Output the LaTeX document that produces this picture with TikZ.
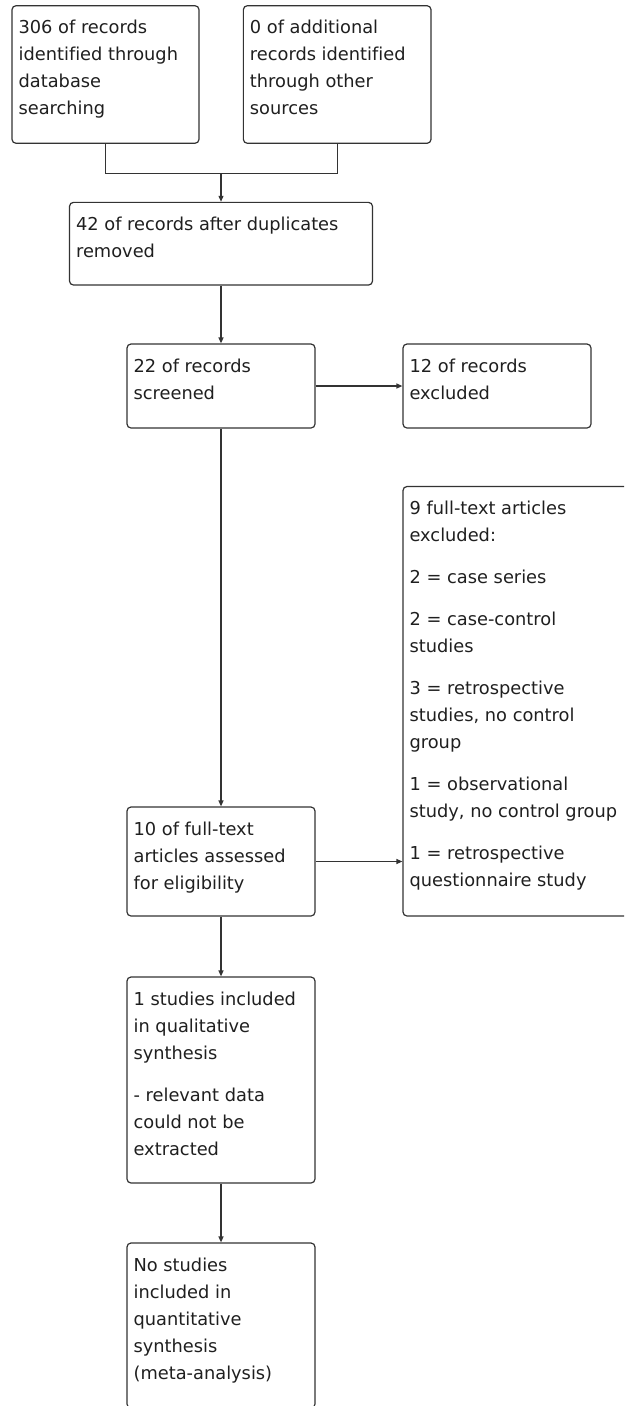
\documentclass[tikz,border=0pt]{standalone}
\usepackage{fontspec}
\setmainfont[Ligatures=NoCommon]{DejaVu Sans}
\usetikzlibrary{arrows.meta}
\begin{document}
\begin{tikzpicture}[x=1pt,y=-1pt,
  box/.style={draw=black!80, line width=1.2pt, rounded corners=4pt, inner sep=0pt},
  txt/.style={anchor=north west, inner sep=0pt, align=left, text=black!88,
    font=\fontsize{17.8}{27}\selectfont},
  ln/.style={draw=black!80, line width=1.2pt},
  arr/.style={ln, -{Triangle[length=6pt,width=5pt]}}]
\path[use as bounding box, clip] (0,0) rectangle (624,1406);
% boxes
\node[box, minimum width=187pt, minimum height=137.6pt] (a) at (105.5,74.5) {};
\node[box, minimum width=187.7pt, minimum height=137.6pt] (b) at (337.2,74.5) {};
\node[box, minimum width=303pt, minimum height=82.7pt] (c) at (221,243.7) {};
\node[box, minimum width=188pt, minimum height=84pt] (d) at (221,386) {};
\node[box, minimum width=188pt, minimum height=84pt] (e) at (497,386) {};
\node[box, minimum width=227pt, minimum height=429.5pt] (f) at (516.5,701.25) {};
\node[box, minimum width=188pt, minimum height=109pt] (g) at (221,861.5) {};
\node[box, minimum width=188pt, minimum height=206pt] (h) at (221,1080) {};
\node[box, minimum width=188pt, minimum height=165pt] (i) at (221,1325.5) {};
% texts
\node[txt] (ta) at ([shift={(7,12.5)}]a.north west) {\rule{0pt}{16pt}306 of records\\identified through\\database\\searching};
\node[txt] (tb) at ([shift={(7,12.5)}]b.north west) {\rule{0pt}{16pt}0 of additional\\records identified\\through other\\sources};
\node[txt] (tc) at ([shift={(7,12.5)}]c.north west) {\rule{0pt}{16pt}42 of records after duplicates\\removed};
\node[txt] (td) at ([shift={(7,12.5)}]d.north west) {\rule{0pt}{16pt}22 of records\\screened};
\node[txt] (te) at ([shift={(7,12.5)}]e.north west) {\rule{0pt}{16pt}12 of records\\excluded};
\node[txt] (tf) at ([shift={(7,12.5)}]f.north west) {\rule{0pt}{16pt}9 full-text articles\\excluded:\\[15pt]2 = case series\\[15pt]2 = case-control\\studies\\[15pt]3 = retrospective\\studies, no control\\group\\[15pt]1 = observational\\study, no control group\\[15pt]1 = retrospective\\questionnaire study};
\node[txt] (tg) at ([shift={(7,12.5)}]g.north west) {\rule{0pt}{16pt}10 of full-text\\articles assessed\\for eligibility};
\node[txt] (th) at ([shift={(7,12.5)}]h.north west) {\rule{0pt}{16pt}1 studies included\\in qualitative\\synthesis\\[15pt]- relevant data\\could not be\\extracted};
\node[txt] (ti) at ([shift={(7,12.5)}]i.north west) {\rule{0pt}{16pt}No studies\\included in\\quantitative\\synthesis\\(meta-analysis)};
% connectors
\coordinate (j) at (221,173.3);
\draw[ln] (a.south) |- (j) -| (b.south);
\draw[arr] (j) -- (c.north);
\draw[arr] (c.south) -- (d.north);
\draw[arr] (d.east) -- (e.west);
\draw[arr] (d.south) -- (g.north);
\draw[arr] (g.east) -- (g.east -| f.west);
\draw[arr] (g.south) -- (h.north);
\draw[arr] (h.south) -- (i.north);
\end{tikzpicture}
\end{document}
